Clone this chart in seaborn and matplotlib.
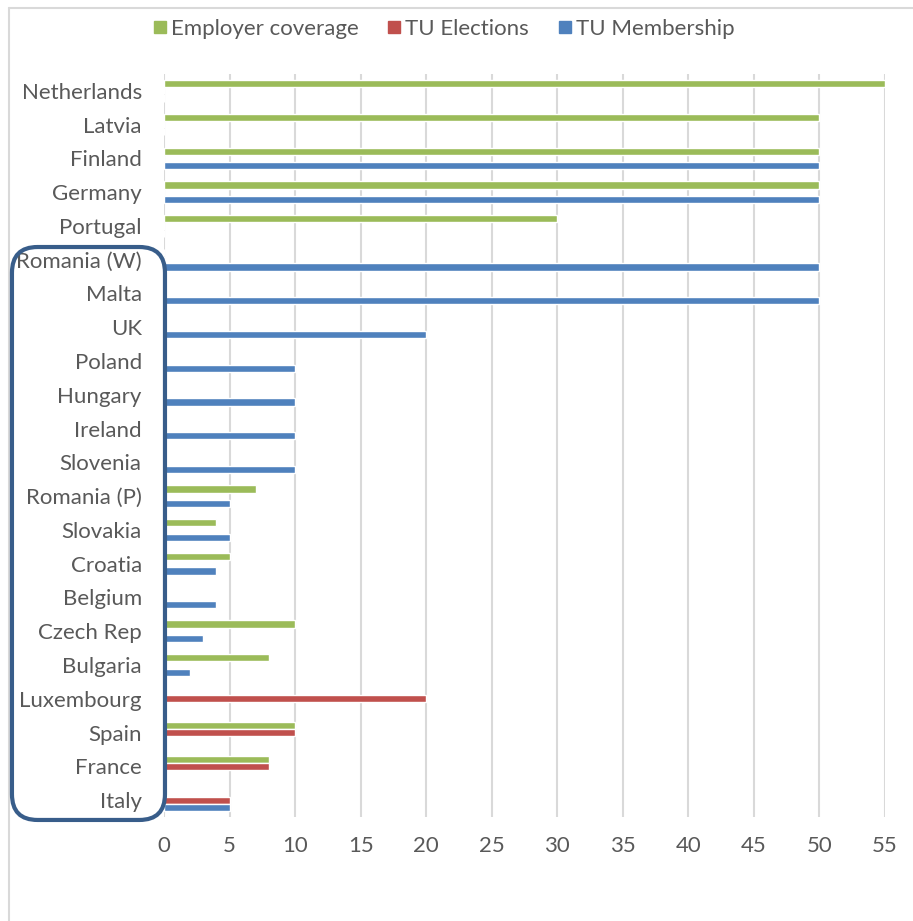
import pandas as pd
import matplotlib
matplotlib.use("Agg")
import matplotlib.pyplot as plt
import seaborn as sns
from matplotlib.patches import FancyBboxPatch
from matplotlib.lines import Line2D

# Data (top to bottom)
countries = ['Netherlands', 'Latvia', 'Finland', 'Germany', 'Portugal',
             'Romania (W)', 'Malta', 'UK', 'Poland', 'Hungary', 'Ireland',
             'Slovenia', 'Romania (P)', 'Slovakia', 'Croatia', 'Belgium',
             'Czech Rep', 'Bulgaria', 'Luxembourg', 'Spain', 'France', 'Italy']
employer_coverage = [55, 50, 50, 50, 30, 0, 0, 0, 0, 0, 0,
                     0, 7, 4, 5, 0, 10, 8, 0, 10, 8, 0]
tu_elections = [0, 0, 0, 0, 0, 0, 0, 0, 0, 0, 0,
                0, 0, 0, 0, 0, 0, 0, 20, 10, 8, 5]
tu_membership = [0, 0, 50, 50, 0, 50, 50, 20, 10, 10, 10,
                 10, 5, 5, 4, 4, 3, 2, 0, 0, 0, 5]
series = ['Employer coverage', 'TU Elections', 'TU Membership']
colors = ['#9BBB59', '#C0504D', '#4F81BD']
x_ticks = list(range(0, 60, 5))

df = pd.DataFrame({'Country': countries,
                   'Employer coverage': employer_coverage,
                   'TU Elections': tu_elections,
                   'TU Membership': tu_membership})
long = df.melt(id_vars='Country', var_name='Series', value_name='Value')

sns.set_style('white')
plt.rcParams['font.family'] = ['Lato', 'DejaVu Sans']
text_gray = '#595959'

fig = plt.figure(figsize=(9.13, 9.21), dpi=100)
ax = fig.add_axes([0.1796, 0.1129, 0.7897, 0.8068])

sns.barplot(data=long, y='Country', x='Value', hue='Series',
            order=countries, hue_order=series, palette=colors,
            orient='h', width=0.64, saturation=1, legend=False, ax=ax)

ax.set_xlim(0, 55)
ax.set_xticks(x_ticks)
ax.set_xticklabels([str(t) for t in x_ticks])
ax.set_xlabel('')
ax.set_ylabel('')
ax.grid(axis='x', color='#D9D9D9', linewidth=1.5)
ax.set_axisbelow(True)
for s in ax.spines.values():
    s.set_visible(False)
ax.tick_params(axis='y', length=0, pad=16, labelsize=16, labelcolor=text_gray)
ax.tick_params(axis='x', length=0, pad=14, labelsize=16, labelcolor=text_gray)

# legend across the top
handles = [Line2D([0], [0], marker='s', linestyle='', markersize=9,
                  markerfacecolor=c, markeredgecolor=c) for c in colors]
fig.legend(handles, series, loc='center', bbox_to_anchor=(0.485, 0.969),
           ncol=3, frameon=False, fontsize=16, labelcolor=text_gray,
           handletextpad=0.1, columnspacing=1.2, handlelength=0.8)

# outer chart-area border
fig.add_artist(Line2D([0.0099, 1.0], [0.9913, 0.9913], transform=fig.transFigure,
                      color='#D9D9D9', linewidth=1.5))
fig.add_artist(Line2D([0.0099, 0.0099], [0.0, 0.9913], transform=fig.transFigure,
                      color='#D9D9D9', linewidth=1.5))

# rounded highlight box around the lower countries
box = FancyBboxPatch((0.0131, 0.1097), 0.1676, 0.6221,
                     boxstyle='round,pad=0,rounding_size=0.028',
                     transform=fig.transFigure, fill=False,
                     edgecolor='#385D8A', linewidth=3, zorder=10)
fig.add_artist(box)

fig.savefig('out.png', dpi=100)
